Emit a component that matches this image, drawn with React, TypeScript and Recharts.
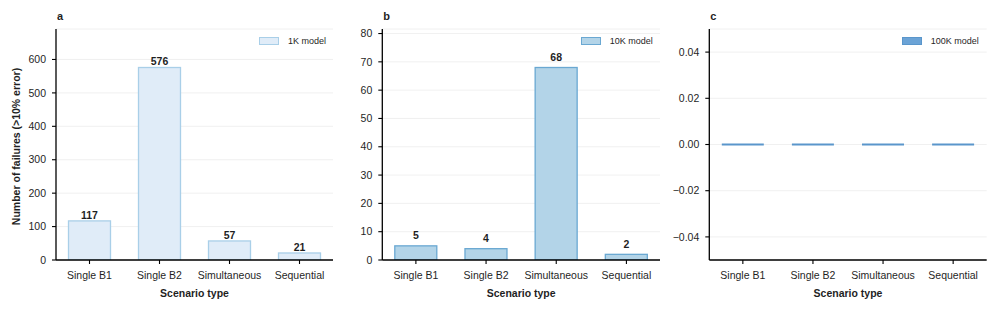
import React from 'react';
import { BarChart, Bar, XAxis, YAxis, CartesianGrid, Legend, LabelList } from 'recharts';

const categories = ['Single B1', 'Single B2', 'Simultaneous', 'Sequential'];
const failures1K = [117, 576, 57, 21];
const failures10K = [5, 4, 68, 2];
const failures100K = [0, 0, 0, 0];
const ticks1K = [0, 100, 200, 300, 400, 500, 600];
const ticks10K = [0, 10, 20, 30, 40, 50, 60, 70, 80];
const ticks100K = [-0.04, -0.02, 0, 0.02, 0.04];
const seriesNames = ['1K model', '10K model', '100K model'];
const panelLetters = ['a', 'b', 'c'];

const FONT = '"Liberation Sans", Arial, Helvetica, sans-serif';
const TEXT = '#1f1f1f';

type PanelCfg = {
  left: number;
  width: number;
  yW: number;
  mR: number;
  legendLeft: number;
  values: number[];
  name: string;
  letter: string;
  ticks: number[];
  domain: [number, number];
  fill: string;
  stroke: string;
  fmt: (v: number) => string;
  labelGap: number;
  showValues: boolean;
  yLabel?: string;
};

const BarShape = (props: any) => {
  const { x, y, width, height, fill, stroke, strokeWidth } = props;
  if (!height || Math.abs(height) < 0.01) {
    return <path d={`M${x},${y}H${x + width}`} stroke={stroke} strokeWidth={2} fill="none" />;
  }
  return <rect x={x} y={y} width={width} height={height} fill={fill} stroke={stroke} strokeWidth={strokeWidth} />;
};

const intFmt = (v: number) => String(v);
const decFmt = (v: number) => (v < 0 ? '\u2212' : '') + Math.abs(v).toFixed(2);

const panels: PanelCfg[] = [
  {
    left: 0, width: 340, yW: 56, mR: 7, legendLeft: 259,
    values: failures1K, name: seriesNames[0], letter: panelLetters[0],
    ticks: ticks1K, domain: [0, Math.max(...failures1K) * 1.2],
    fill: '#e0ecf8', stroke: '#a9cfe8', fmt: intFmt, labelGap: 5.8, showValues: true,
    yLabel: 'Number of failures (>10% error)',
  },
  {
    left: 330, width: 340, yW: 52.3, mR: 10, legendLeft: 250.7,
    values: failures10K, name: seriesNames[1], letter: panelLetters[1],
    ticks: ticks10K, domain: [0, Math.max(...failures10K) * 1.2],
    fill: '#b3d4e8', stroke: '#6aa8d2', fmt: intFmt, labelGap: 10.5, showValues: true,
  },
  {
    left: 660, width: 337, yW: 49.3, mR: 10.3, legendLeft: 241.7,
    values: failures100K, name: seriesNames[2], letter: panelLetters[2],
    ticks: ticks100K, domain: [-0.05, 0.05],
    fill: '#6ba3d6', stroke: '#5a96cb', fmt: decFmt, labelGap: 8, showValues: false,
  },
];

const Panel = ({ cfg }: { cfg: PanelCfg }) => {
  const data = categories.map((c, i) => ({ category: c, value: cfg.values[i] }));
  const tickStyle = { fontSize: 10.5, fill: TEXT, fontFamily: FONT };
  return (
    <div style={{ position: 'absolute', left: cfg.left, top: 0, width: cfg.width, height: 309 }}>
      <div
        style={{
          position: 'absolute', left: cfg.yW + 1, top: 9, fontFamily: FONT, fontWeight: 'bold',
          fontSize: 11, color: TEXT, lineHeight: '14px', zIndex: 2,
        }}
      >
        {cfg.letter}
      </div>
      <BarChart
        width={cfg.width}
        height={309}
        data={data}
        margin={{ top: 29, right: cfg.mR, bottom: 0, left: 0 }}
        barCategoryGap={0}
      >
        <CartesianGrid vertical={false} stroke="#ececec" strokeWidth={0.8} />
        <XAxis
          dataKey="category"
          type="category"
          height={49}
          padding={{ left: -1.5, right: -1.5 }}
          tickSize={4}
          tickMargin={8}
          tick={tickStyle}
          axisLine={{ stroke: '#000', strokeWidth: 1.3 }}
          tickLine={{ stroke: '#000', strokeWidth: 1.1 }}
          interval={0}
          label={(p: any) => {
            const vb = p.viewBox;
            return (
              <text
                x={vb.x + vb.width / 2}
                y={vb.y + vb.height - 12}
                textAnchor="middle"
                fontFamily={FONT}
                fontWeight="bold"
                fontSize={10.5}
                fill={TEXT}
              >
                Scenario type
              </text>
            );
          }}
        />
        <YAxis
          type="number"
          width={cfg.yW}
          domain={cfg.domain}
          ticks={cfg.ticks}
          allowDataOverflow
          tickFormatter={cfg.fmt}
          tickSize={4}
          tickMargin={6}
          tick={tickStyle}
          axisLine={{ stroke: '#000', strokeWidth: 1.3 }}
          tickLine={{ stroke: '#000', strokeWidth: 1.1 }}
          label={
            cfg.yLabel
              ? (p: any) => {
                  const vb = p.viewBox;
                  const cx = vb.x + 16;
                  const cy = vb.y + vb.height / 2 + 2;
                  return (
                    <text
                      x={cx}
                      y={cy}
                      transform={`rotate(-90 ${cx} ${cy})`}
                      textAnchor="middle"
                      dy="0.36em"
                      fontFamily={FONT}
                      fontWeight="bold"
                      fontSize={10.5}
                      fill={TEXT}
                    >
                      {cfg.yLabel}
                    </text>
                  );
                }
              : undefined
          }
        />
        <Legend
          layout="vertical"
          align="center"
          verticalAlign="middle"
          wrapperStyle={{ top: 36, left: cfg.legendLeft, width: 'auto', right: 'auto', bottom: 'auto' }}
          content={(p: any) => {
            const item = p.payload && p.payload[0];
            return (
              <div
                style={{
                  display: 'flex', alignItems: 'center', fontFamily: FONT, fontSize: 9,
                  color: TEXT, lineHeight: '10px', whiteSpace: 'nowrap',
                }}
              >
                <svg width={20} height={8} style={{ display: 'block' }}>
                  <rect x={0.5} y={0.5} width={19} height={7} fill={cfg.fill} stroke={cfg.stroke} strokeWidth={1} />
                </svg>
                <span style={{ marginLeft: 9 }}>{item ? item.value : cfg.name}</span>
              </div>
            );
          }}
        />
        <Bar
          dataKey="value"
          name={cfg.name}
          fill={cfg.fill}
          stroke={cfg.stroke}
          strokeWidth={1.3}
          barSize={42}
          shape={BarShape}
          isAnimationActive={false}
        >
          {cfg.showValues && (
            <LabelList
              dataKey="value"
              content={(p: any) => {
                const { x, y, width, value } = p;
                return (
                  <text
                    x={x + width / 2}
                    y={y - cfg.labelGap}
                    dy="0.36em"
                    textAnchor="middle"
                    fontFamily={FONT}
                    fontWeight="bold"
                    fontSize={10.5}
                    fill={TEXT}
                  >
                    {value}
                  </text>
                );
              }}
            />
          )}
        </Bar>
      </BarChart>
    </div>
  );
};

export default function App() {
  return (
    <div style={{ position: 'absolute', left: 0, top: 0, width: 997, height: 309, background: '#fff', overflow: 'hidden' }}>
      {panels.map((cfg) => (
        <Panel key={cfg.letter} cfg={cfg} />
      ))}
    </div>
  );
}
